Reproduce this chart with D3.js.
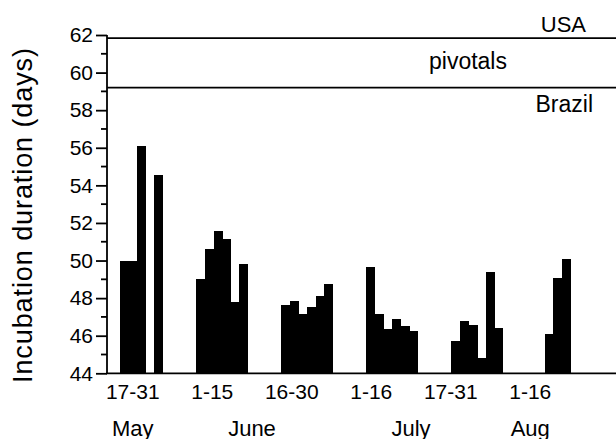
<!DOCTYPE html>
<html>
<head>
<meta charset="utf-8">
<script src="https://cdn.jsdelivr.net/npm/d3@7"></script>
<style>
  body { margin: 0; background: #fff; }
  text { font-family: "Liberation Sans", Arial, sans-serif; fill: #000; }
</style>
</head>
<body>
<div id="chart"></div>
<script>
// incubation duration (days) per sample, grouped by half-month period
// null = empty slot
var periods = ["17-31", "1-15", "16-30", "1-16", "17-31", "1-16"]
var months = [
    { name: "May", from: 0, to: 0 },
    { name: "June", from: 1, to: 2 },
    { name: "July", from: 3, to: 4 },
    { name: "Aug", from: 5, to: 5 }
]
var may17_31 = [50.0, 50.0, 56.07, null, 54.56]
var jun1_15 = [49.0, 50.62, 51.56, 51.13, 47.82, 49.8]
var jun16_30 = [47.66, 47.84, 47.15, 47.54, 48.12, 48.76]
var jul1_16 = [49.64, 47.17, 46.37, 46.9, 46.53, 46.24]
var jul17_31 = [45.71, 46.76, 46.56, 44.81, 49.4, 46.41]
var aug1_16 = [null, 46.07, 49.06, 50.07]
var groups = [may17_31, jun1_15, jun16_30, jul1_16, jul17_31, aug1_16]

var usaLine = 61.83
var brazilLine = 59.2
var yTicks = [44, 46, 48, 50, 52, 54, 56, 58, 60, 62]

var W = 616, H = 439
var margin = { top: 35, right: 0, bottom: 65.7, left: 107 }

var svg = d3.select("#chart").append("svg")
    .attr("width", W).attr("height", H)

// flatten groups into slots, leaving a gap between periods
var groupGap = 3.85
var bars = []
var pos = 0
groups.forEach(function (g, gi) {
    g.forEach(function (v, i) {
        if (v != null) bars.push({ slot: pos + i, value: v, group: gi })
    })
    pos += g.length + groupGap
})

var x = d3.scaleLinear().domain([-1.5, 57.5]).range([margin.left, W - margin.right])
var y = d3.scaleLinear().domain([44, 62]).range([H - margin.bottom, margin.top])
var xp = d3.scaleBand().domain(d3.range(periods.length)).range([93, 570])

// bars
svg.append("g").selectAll("rect")
    .data(bars)
    .enter()
    .append("rect")
    .attr("x", function (d) { return x(d.slot) })
    .attr("width", function (d) { return x(d.slot + 1) - x(d.slot) + 0.4 })
    .attr("y", function (d) { return y(d.value) })
    .attr("height", function (d) { return y(44) - y(d.value) })
    .attr("fill", "#000")
    .attr("shape-rendering", "crispEdges")

// reference lines
svg.selectAll(".ref")
    .data([usaLine, brazilLine])
    .enter()
    .append("line")
    .attr("x1", x.range()[0]).attr("x2", x.range()[1])
    .attr("y1", function (d) { return y(d) }).attr("y2", function (d) { return y(d) })
    .attr("stroke", "#000").attr("stroke-width", 1.8)

// y axis
var yAxis = d3.axisLeft(y).tickValues(yTicks).tickSize(11).tickPadding(3).tickFormat(d3.format("d"))
var ya = svg.append("g").attr("transform", "translate(" + margin.left + ",0)").call(yAxis)
ya.select(".domain").attr("stroke-width", 1.8).attr("d", "M0," + y(62) + "V" + y(44))
ya.selectAll(".tick line").attr("stroke-width", 1.8)
ya.selectAll(".tick text").style("font-size", "21px").style("font-family", "Liberation Sans, Arial, sans-serif")
ya.selectAll(".minor")
    .data(d3.range(45, 62, 2))
    .enter()
    .append("line")
    .attr("x1", -6).attr("x2", 0)
    .attr("y1", function (d) { return y(d) }).attr("y2", function (d) { return y(d) })
    .attr("stroke", "#000").attr("stroke-width", 1.8)

// x axis baseline
svg.append("line")
    .attr("x1", margin.left - 1).attr("x2", W)
    .attr("y1", y(44)).attr("y2", y(44))
    .attr("stroke", "#000").attr("stroke-width", 1.8)

// period labels
svg.selectAll(".period")
    .data(periods)
    .enter()
    .append("text")
    .attr("x", function (d, i) { return xp(i) + xp.bandwidth() / 2 })
    .attr("y", 398.5)
    .attr("text-anchor", "middle")
    .style("font-size", "21px")
    .text(function (d) { return d })

// month labels
svg.selectAll(".month")
    .data(months)
    .enter()
    .append("text")
    .attr("x", function (d) { return (xp(d.from) + xp(d.to)) / 2 + xp.bandwidth() / 2 })
    .attr("y", 435.5)
    .attr("text-anchor", "middle")
    .style("font-size", "22px")
    .text(function (d) { return d.name })

// annotations
svg.append("text").attr("x", 586).attr("y", 31.5).attr("text-anchor", "end")
    .style("font-size", "22px").text("USA")
svg.append("text").attr("x", 468).attr("y", 68.5).attr("text-anchor", "middle")
    .style("font-size", "23px").text("pivotals")
svg.append("text").attr("x", 593).attr("y", 111.5).attr("text-anchor", "end")
    .style("font-size", "23px").text("Brazil")

// y title
svg.append("text")
    .attr("transform", "translate(32," + 215.5 + ") rotate(-90)")
    .attr("text-anchor", "middle")
    .style("font-size", "27px")
    .attr("textLength", 335)
    .text("Incubation duration (days)")
</script>
</body>
</html>
